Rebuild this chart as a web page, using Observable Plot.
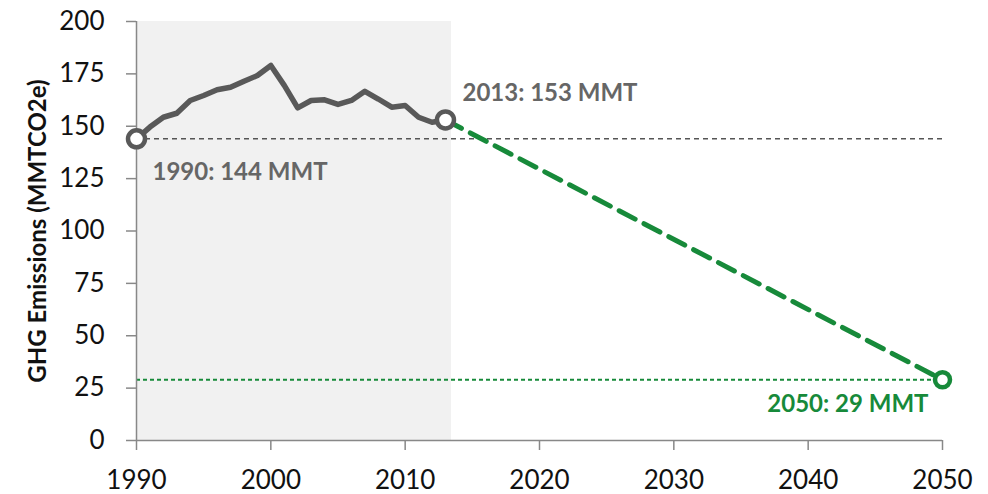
<!DOCTYPE html>
<html>
<head>
<meta charset="utf-8">
<script src="https://cdn.jsdelivr.net/npm/d3@7"></script>
<script src="https://cdn.jsdelivr.net/npm/@observablehq/plot@0.6"></script>
<style>
  html, body { margin: 0; padding: 0; background: #fff; }
  #chart svg { display: block; }
</style>
</head>
<body>
<div id="chart"></div>
<script>
// Historical emissions (MMTCO2e)
const years = [1990,1991,1992,1993,1994,1995,1996,1997,1998,1999,2000,2001,2002,2003,2004,2005,2006,2007,2008,2009,2010,2011,2012,2013];
const emissions = [144,149.6,154.3,156.2,162.3,164.7,167.4,168.6,171.5,174.2,179,169.5,158.8,162.3,162.6,160.4,162.3,166.7,163,159.1,159.9,154.3,151.9,153];
// Projection to 2050
const projYears = [2013, 2050];
const projValues = [153, 29];
// Reference levels
const baseline = 144;   // 1990 level
const target = 29;      // 2050 goal
const historyEnd = 2013.45;
const xTicks = [1990,2000,2010,2020,2030,2040,2050];
const yTicks = [0,25,50,75,100,125,150,175,200];
const labels = [
  {year: 2013, value: 153, text: "2013: 153 MMT"},
  {year: 1990, value: 144, text: "1990: 144 MMT"},
  {year: 2050, value: 29, text: "2050: 29 MMT"}
];
const yTitle = "GHG Emissions (MMTCO2e)";

const history = years.map((y, i) => ({year: y, value: emissions[i]}));
const projection = projYears.map((y, i) => ({year: y, value: projValues[i]}));

const gray = "#595959";
const green = "#178a3a";
const font = "Lato, 'Open Sans', sans-serif";

const chart = Plot.plot({
  width: 988,
  height: 494,
  marginLeft: 136,
  marginRight: 46,
  marginTop: 21,
  marginBottom: 54,
  style: {fontFamily: font, fontSize: "26px", color: "#111", background: "#fff"},
  x: {domain: [1990, 2050]},
  y: {domain: [0, 200]},
  marks: [
    Plot.rect([{x1: 1990, x2: historyEnd}], {x1: "x1", x2: "x2", y1: 0, y2: 200, fill: "#f1f1f1"}),
    Plot.ruleY([baseline], {x1: 1990, x2: 2050, stroke: "#555", strokeWidth: 1.5, strokeDasharray: "5,4"}),
    Plot.ruleY([target], {x1: 1990, x2: 2050, stroke: green, strokeWidth: 2, strokeDasharray: "4,3"}),
    Plot.axisX({ticks: xTicks, tickFormat: d => String(d), tickSize: 10, tickPadding: 20, stroke: "#888", strokeWidth: 1.5, fill: "#111", fontSize: 26, label: null}),
    Plot.ruleY([0], {stroke: "#888", strokeWidth: 1.5}),
    Plot.axisY({ticks: yTicks, tickSize: 10, tickPadding: 22, stroke: "#888", strokeWidth: 1.5, fill: "#111", fontSize: 26, label: null}),
    Plot.axisY({ticks: [], tickSize: 0, label: yTitle, labelAnchor: "center", labelArrow: "none", labelOffset: 108, fill: "#111", fontWeight: "bold", fontSize: 24}),
    Plot.ruleX([1990], {y1: 0, y2: 200, stroke: "#888", strokeWidth: 1.5}),
    Plot.line(projection, {x: "year", y: "value", stroke: green, strokeWidth: 5, strokeDasharray: "18,10"}),
    Plot.line(history, {x: "year", y: "value", stroke: gray, strokeWidth: 5.5, strokeLinejoin: "round"}),
    Plot.dot([history[0], history[history.length - 1]], {x: "year", y: "value", r: 8.5, fill: "#fff", stroke: gray, strokeWidth: 4.5}),
    Plot.dot([projection[1]], {x: "year", y: "value", r: 7.5, fill: "#fff", stroke: green, strokeWidth: 4.5}),
    Plot.text([labels[0]], {x: "year", y: "value", text: "text", dx: 17, dy: -27, textAnchor: "start", fill: "#666", fontWeight: "bold", fontSize: 24}),
    Plot.text([labels[1]], {x: "year", y: "value", text: "text", dx: 16, dy: 33, textAnchor: "start", fill: "#666", fontWeight: "bold", fontSize: 24}),
    Plot.text([labels[2]], {x: "year", y: "value", text: "text", dx: -14, dy: 25, textAnchor: "end", fill: green, fontWeight: "bold", fontSize: 24})
  ]
});
document.getElementById("chart").appendChild(chart);
</script>
</body>
</html>
